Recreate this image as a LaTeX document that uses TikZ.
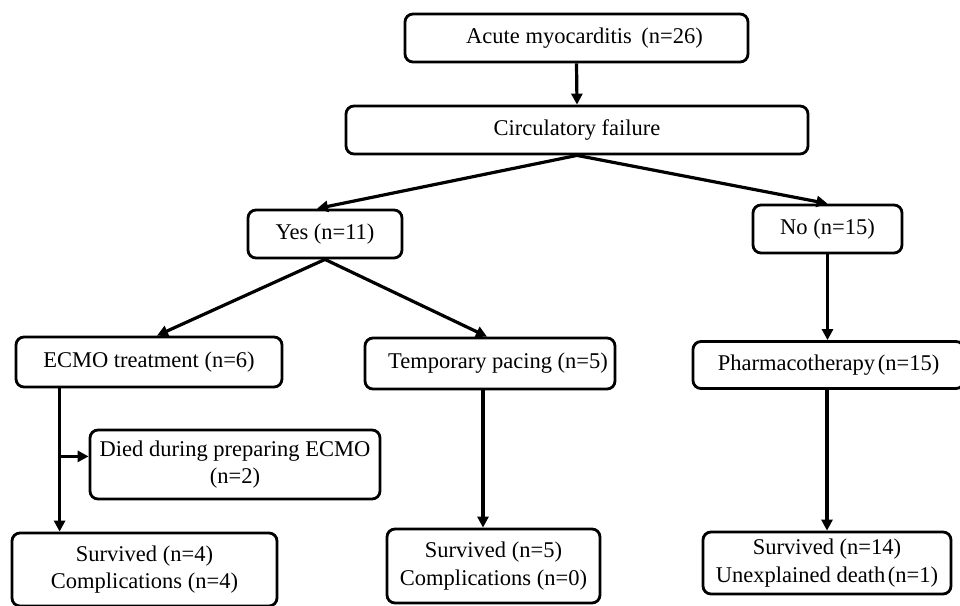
\documentclass[tikz,border=0pt]{standalone}
\usepackage{fontspec}
\setmainfont{Liberation Serif}
\usetikzlibrary{arrows.meta,calc}
\begin{document}
\begin{tikzpicture}[x=1pt,y=-1pt,
  box/.style={draw=black,line width=2.8pt,rounded corners=8pt,fill=white,
    inner sep=0pt,align=center,font=\fontsize{22.5}{27.5}\selectfont},
  arr/.style={line width=3.2pt,-{Triangle[length=11pt,width=11pt]}}]
\useasboundingbox (0,0) rectangle (960,605);
\clip (0,0) rectangle (960,605);
\fill[white] (0,0) rectangle (960,605);
\node[box,minimum width=343pt,minimum height=48pt] (acute) at (576.5,38) {\hspace{16pt}Acute myocarditis\hspace{4pt} (n=26)};
\node[box,minimum width=462pt,minimum height=48pt] (circ) at (577,130) {Circulatory failure};
\node[box,minimum width=154pt,minimum height=48pt] (yes) at (325,234) {Yes (n=11)};
\node[box,minimum width=149pt,minimum height=48pt] (no) at (827.5,229) {No (n=15)};
\node[box,minimum width=266pt,minimum height=50pt] (ecmo) at (149,362) {ECMO treatment (n=6)};
\node[box,minimum width=250pt,minimum height=51pt] (temp) at (490,363.5) {\hspace{16pt}Temporary pacing (n=5)};
\node[box,minimum width=271pt,minimum height=47pt] (pharma) at (828.5,365) {Pharmacotherapy\hspace{-3pt} (n=15)};
\node[box,minimum width=290pt,minimum height=69pt] (died) at (235,464.5) {Died during preparing ECMO\\(n=2)};
\node[box,minimum width=265pt,minimum height=73pt] (s1) at (144.5,569.5) {Survived (n=4)\\Complications (n=4)};
\node[box,minimum width=213pt,minimum height=74pt] (s2) at (493.5,566) {Survived (n=5)\\Complications (n=0)};
\node[box,minimum width=248pt,minimum height=62pt] (s3) at (827,563) {Survived (n=14)\\Unexplained death\hspace{-3pt} (n=1)};
\draw[arr] (acute.south) -- (circ.north);
\draw[arr] (circ.south) -- ($(yes.north)+(-8,0)$);
\draw[arr] (circ.south) -- (no.north);
\draw[arr] (yes.south) -- ($(ecmo.north)+(8,0)$);
\draw[arr] (yes.south) -- ($(temp.north)+(-3,0)$);
\draw[arr] (no.south) -- (no.south |- pharma.north);
\draw[arr] (pharma.south -| s3.north) -- (s3.north);
\coordinate (tp) at ($(temp.south)+(-7,0)$);
\draw[arr] (tp) -- (tp |- s2.north);
\coordinate (e1) at ($(ecmo.south west)+(45,0)$);
\draw[arr] (e1) -- (e1 |- s1.north);
\coordinate (br) at ($(e1)+(0,68)$);
\draw[arr] (br) -- (br -| died.west);
\end{tikzpicture}
\end{document}
